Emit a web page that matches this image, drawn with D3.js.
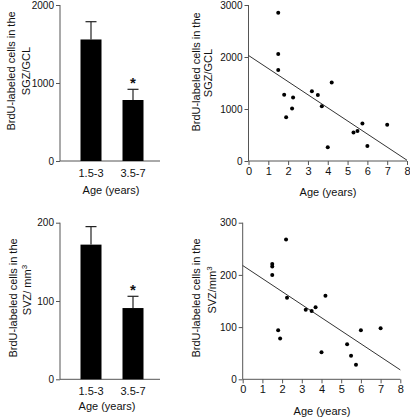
<!DOCTYPE html>
<html><head><meta charset="utf-8">
<script src="https://cdn.jsdelivr.net/npm/d3@7"></script>
<style>
body{margin:0;background:#fff;}
svg text{font-family:"Liberation Sans",Arial,sans-serif;fill:#111;}
</style>
</head><body>
<svg id="c" width="410" height="417"></svg>
<script>
// ---- data ----
const barCategories = ["1.5-3", "3.5-7"];
const sgzMeans = [1558, 782];
const sgzSem = [228, 137];
const svzMeans = [172, 91];
const svzSem = [23, 15];
const significant = [false, true];

const ages = [1.5, 1.5, 1.5, 1.8, 1.9, 2.2, 2.25, 3.2, 3.5, 3.7, 4.0, 4.2, 5.3, 5.5, 5.75, 6.0, 7.0];
const sgzCounts = [2850, 2060, 1750, 1275, 840, 1010, 1220, 1340, 1270, 1055, 265, 1510, 550, 575, 720, 290, 695];
const svzAges = [1.5, 1.5, 1.5, 1.8, 1.9, 2.2, 2.25, 3.2, 3.5, 3.7, 4.0, 4.2, 5.3, 5.5, 5.75, 6.0, 7.0];
const svzCounts = [221, 216, 200, 94, 78, 268, 156, 133, 131, 138, 52, 160, 67, 45, 28, 94, 98];

const sgzFitX = [0, 8], sgzFitY = [2030, 15];
const svzFitX = [0, 8], svzFitY = [218, 18];

const sgzTicks = [0, 1000, 2000];
const svzBarTicks = [0, 100, 200];
const sgzScatterTicks = [0, 1000, 2000, 3000];
const svzScatterTicks = [0, 100, 200, 300];
const ageTicks = [0, 1, 2, 3, 4, 5, 6, 7, 8];

const svg = d3.select("#c");
const AXIS = "#555";

function yAxis(g, y, ticks, x0) {
  const a = g.append("g").attr("transform", `translate(${x0},0)`)
    .call(d3.axisLeft(y).tickValues(ticks).tickSize(4).tickPadding(2).tickFormat(d3.format("d")));
  a.selectAll("path,line").attr("stroke", AXIS);
  a.selectAll("text").attr("font-size", 10).attr("fill", "#111");
  a.select(".domain").attr("d", `M0,${y.range()[0]}V${y.range()[1]}`);
}

function yLabel(g, lines, cy, xs, sup) {
  lines.forEach((t, i) => {
    const txt = g.append("text").attr("transform", `translate(${xs[i]},${cy[i]}) rotate(-90)`)
      .attr("text-anchor", "middle").attr("font-size", 11).text(t);
    if (sup && i === lines.length - 1) {
      txt.append("tspan").attr("baseline-shift", "super").attr("font-size", 8).text(sup);
    }
  });
}

function barPanel(opts) {
  const g = svg.append("g");
  const y = d3.scaleLinear().domain(opts.domain).range(opts.yRange);
  const x = d3.scaleBand().domain(barCategories).range(opts.xBand).paddingInner(0.5).paddingOuter(0.25);
  // x axis line
  g.append("line").attr("x1", opts.axisX).attr("x2", opts.axisEnd)
    .attr("y1", y(0)).attr("y2", y(0)).attr("stroke", AXIS);
  // error bars
  const eb = g.selectAll(".eb").data(barCategories).enter().append("g");
  eb.append("line").attr("x1", d => x(d) + x.bandwidth() / 2).attr("x2", d => x(d) + x.bandwidth() / 2)
    .attr("y1", (d, i) => y(opts.means[i])).attr("y2", (d, i) => y(opts.means[i] + opts.sem[i]))
    .attr("stroke", "#222").attr("stroke-width", 1.2);
  eb.append("line").attr("x1", d => x(d) + x.bandwidth() / 2 - 5.5).attr("x2", d => x(d) + x.bandwidth() / 2 + 5.5)
    .attr("y1", (d, i) => y(opts.means[i] + opts.sem[i])).attr("y2", (d, i) => y(opts.means[i] + opts.sem[i]))
    .attr("stroke", "#222").attr("stroke-width", 1.2);
  g.selectAll(".bar").data(barCategories).enter().append("rect")
    .attr("x", d => x(d)).attr("width", x.bandwidth())
    .attr("y", (d, i) => y(opts.means[i])).attr("height", (d, i) => y(0) - y(opts.means[i]))
    .attr("fill", "#000");
  // asterisk
  g.selectAll(".star").data(barCategories.filter((d, i) => significant[i])).enter().append("text")
    .attr("x", d => x(d) + x.bandwidth() / 2)
    .attr("y", d => y(opts.means[barCategories.indexOf(d)] + opts.sem[barCategories.indexOf(d)]) - 1)
    .attr("text-anchor", "middle").attr("font-size", 15).attr("font-weight", "bold").text("*");
  yAxis(g, y, opts.ticks, opts.axisX);
  // category labels
  const xa = g.append("g").attr("transform", `translate(0,${y(0)})`)
    .call(d3.axisBottom(x).tickSize(0).tickPadding(8));
  xa.select(".domain").remove();
  xa.selectAll("text").attr("font-size", 11).attr("fill", "#111");
  g.append("text").attr("x", opts.ageX).attr("y", opts.ageY).attr("text-anchor", "middle")
    .attr("font-size", 11).text("Age (years)");
  yLabel(g, opts.label, opts.labelY, opts.labelX, opts.sup);
}

function scatterPanel(opts) {
  const g = svg.append("g");
  const x = d3.scaleLinear().domain([0, 8]).range(opts.xRange);
  const y = d3.scaleLinear().domain(opts.domain).range(opts.yRange);
  const xa = g.append("g").attr("transform", `translate(0,${y(0)})`)
    .call(d3.axisBottom(x).tickValues(ageTicks).tickSize(4).tickPadding(2).tickFormat(d3.format("d")));
  xa.selectAll("path,line").attr("stroke", AXIS);
  xa.select(".domain").attr("d", `M${x.range()[0]},0H${x.range()[1]}`);
  xa.selectAll("text").attr("font-size", 11).attr("fill", "#111");
  yAxis(g, y, opts.ticks, x(0));
  g.append("line").attr("x1", x(opts.fitX[0])).attr("y1", y(opts.fitY[0]))
    .attr("x2", x(opts.fitX[1])).attr("y2", y(opts.fitY[1]))
    .attr("stroke", "#333").attr("stroke-width", 1);
  g.selectAll(".pt").data(opts.xs).enter().append("circle")
    .attr("cx", d => x(d)).attr("cy", (d, i) => y(opts.ys[i])).attr("r", 2).attr("fill", "#000");
  g.append("text").attr("x", opts.ageX).attr("y", opts.ageY).attr("text-anchor", "middle")
    .attr("font-size", 11).text("Age (years)");
  yLabel(g, opts.label, opts.labelY, opts.labelX, opts.sup);
}

barPanel({
  domain: [0, 2000], yRange: [161, 5], xBand: [70, 154], axisX: 60, axisEnd: 160,
  means: sgzMeans, sem: sgzSem, ticks: sgzTicks, ageX: 111, ageY: 194,
  label: ["BrdU-labeled cells in the", "SGZ/GCL"], labelY: [71, 71], labelX: [15, 30]
});
scatterPanel({
  domain: [0, 3000], yRange: [161, 5], xRange: [248.5, 407], ticks: sgzScatterTicks,
  xs: ages, ys: sgzCounts, fitX: sgzFitX, fitY: sgzFitY, ageX: 328, ageY: 196,
  label: ["BrdU-labeled cells in the", "SGZ/GCL"], labelY: [72, 73], labelX: [200, 212]
});
barPanel({
  domain: [0, 200], yRange: [379.3, 222.7], xBand: [70, 154], axisX: 60, axisEnd: 160,
  means: svzMeans, sem: svzSem, ticks: svzBarTicks, ageX: 107, ageY: 410,
  label: ["BrdU-labeled cells in the", "SVZ/ mm"], labelY: [298, 290], labelX: [16.5, 31], sup: "3"
});
scatterPanel({
  domain: [0, 300], yRange: [379.3, 222.7], xRange: [242.7, 400.3], ticks: svzScatterTicks,
  xs: svzAges, ys: svzCounts, fitX: svzFitX, fitY: svzFitY, ageX: 322, ageY: 415,
  label: ["BrdU-labeled cells in the", "SVZ/mm"], labelY: [298, 290], labelX: [200, 216], sup: "3"
});
</script>
</body></html>
